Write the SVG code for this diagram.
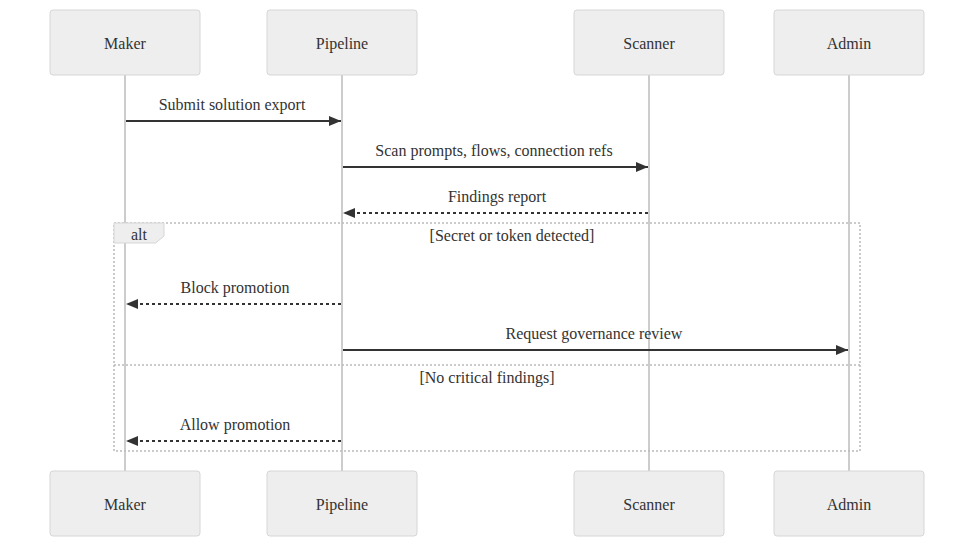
<svg xmlns="http://www.w3.org/2000/svg" width="974" height="547" viewBox="0 0 974 547">
<defs>
<style>
.actor{fill:#eeeeee;stroke:#d6d6d6;stroke-width:1}
.atext{font-family:"Liberation Serif",serif;font-size:16px;fill:#333;text-anchor:middle;dominant-baseline:central}
.life{stroke:#cccccc;stroke-width:2}
.msg{stroke:#333;stroke-width:2;fill:none}
.dash{stroke-dasharray:3,3}
.mtext{font-family:"Liberation Serif",serif;font-size:16px;fill:#333;text-anchor:middle;dominant-baseline:central}
.frame{fill:none;stroke:#bbbbbb;stroke-width:1.5;stroke-dasharray:2,2}
.lbl{fill:#eeeeee;stroke:#d6d6d6;stroke-width:1}
</style>
<marker id="arrow" viewBox="0 0 12 10" refX="12" refY="5" markerWidth="12" markerHeight="10" markerUnits="userSpaceOnUse" orient="auto">
<path d="M0,0 L12,5 L0,10 z" fill="#333"/>
</marker>
</defs>
<rect width="974" height="547" fill="#ffffff"/>
<g id="lifelines">
<line class="life" x1="125" y1="75" x2="125" y2="471"/>
<line class="life" x1="342" y1="75" x2="342" y2="471"/>
<line class="life" x1="649" y1="75" x2="649" y2="471"/>
<line class="life" x1="849" y1="75" x2="849" y2="471"/>
</g>
<g id="actor-maker-top"><rect class="actor" x="50" y="10" width="150" height="65" rx="3"/><text class="atext" x="125" y="43">Maker</text></g>
<g id="actor-pipeline-top"><rect class="actor" x="267" y="10" width="150" height="65" rx="3"/><text class="atext" x="342" y="43">Pipeline</text></g>
<g id="actor-scanner-top"><rect class="actor" x="574" y="10" width="150" height="65" rx="3"/><text class="atext" x="649" y="43">Scanner</text></g>
<g id="actor-admin-top"><rect class="actor" x="774" y="10" width="150" height="65" rx="3"/><text class="atext" x="849" y="43">Admin</text></g>
<g id="actor-maker-bottom"><rect class="actor" x="50" y="471" width="150" height="65" rx="3"/><text class="atext" x="125" y="504">Maker</text></g>
<g id="actor-pipeline-bottom"><rect class="actor" x="267" y="471" width="150" height="65" rx="3"/><text class="atext" x="342" y="504">Pipeline</text></g>
<g id="actor-scanner-bottom"><rect class="actor" x="574" y="471" width="150" height="65" rx="3"/><text class="atext" x="649" y="504">Scanner</text></g>
<g id="actor-admin-bottom"><rect class="actor" x="774" y="471" width="150" height="65" rx="3"/><text class="atext" x="849" y="504">Admin</text></g>
<g id="alt-frame">
<rect class="frame" x="114" y="223" width="746" height="228"/>
<line class="frame" x1="114" y1="365" x2="860" y2="365"/>
<polygon class="lbl" points="114,223 164,223 164,236 155.6,243 114,243"/>
<text class="mtext" x="139" y="234">alt</text>
<text class="mtext" x="512" y="235">[Secret or token detected]</text>
<text class="mtext" x="487" y="377">[No critical findings]</text>
</g>
<g id="connectors">
<text class="mtext" x="232" y="104">Submit solution export</text>
<line class="msg" x1="126" y1="121" x2="341" y2="121" marker-end="url(#arrow)"/>
<text class="mtext" x="494" y="150">Scan prompts, flows, connection refs</text>
<line class="msg" x1="343" y1="167" x2="648" y2="167" marker-end="url(#arrow)"/>
<text class="mtext" x="497" y="196">Findings report</text>
<line class="msg dash" x1="648" y1="213" x2="343" y2="213" marker-end="url(#arrow)"/>
<text class="mtext" x="235" y="287">Block promotion</text>
<line class="msg dash" x1="341" y1="304" x2="126" y2="304" marker-end="url(#arrow)"/>
<text class="mtext" x="594" y="333">Request governance review</text>
<line class="msg" x1="343" y1="350" x2="848" y2="350" marker-end="url(#arrow)"/>
<text class="mtext" x="235" y="424">Allow promotion</text>
<line class="msg dash" x1="341" y1="441" x2="126" y2="441" marker-end="url(#arrow)"/>
</g>
</svg>
